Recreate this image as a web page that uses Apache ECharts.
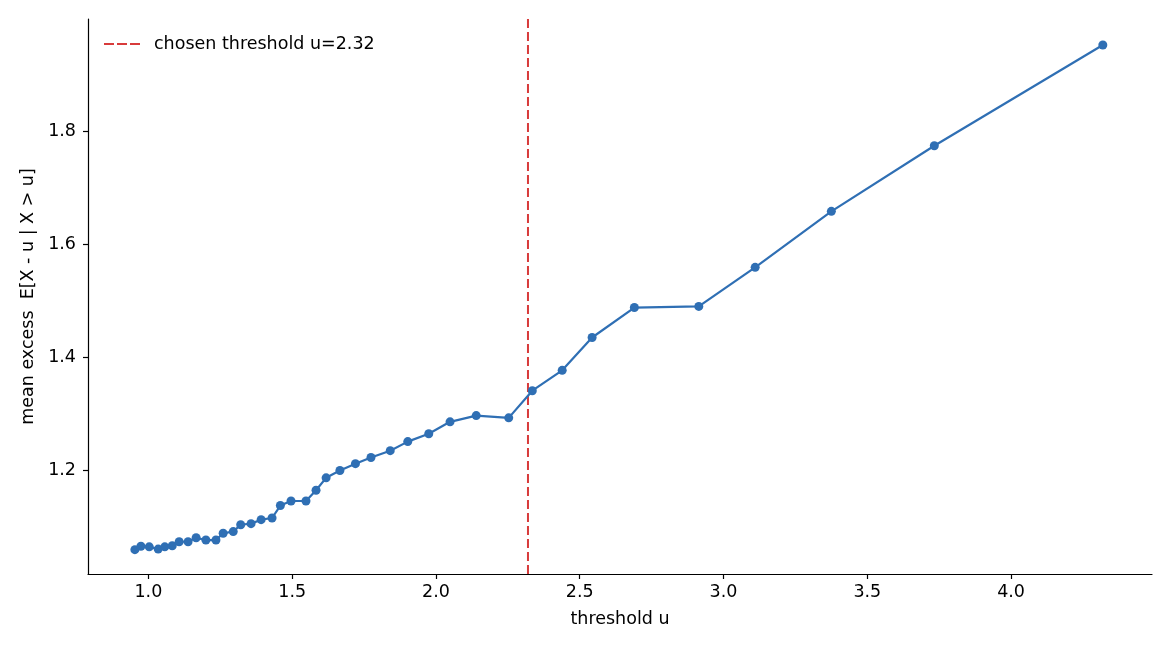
<!DOCTYPE html>
<html>
<head>
<meta charset="utf-8">
<script src="https://cdn.jsdelivr.net/npm/echarts@6/dist/echarts.min.js"></script>
<style>
  html, body { margin: 0; padding: 0; background: #fff; }
  #chart { width: 1170px; height: 650px; }
</style>
</head>
<body>
<div id="chart"></div>
<script>
// threshold values (x) and mean excess values (y)
const thresholds = [0.953, 0.974, 1.003, 1.034, 1.057, 1.083, 1.107, 1.138, 1.166, 1.200,
  1.235, 1.260, 1.295, 1.321, 1.357, 1.392, 1.430, 1.459, 1.496, 1.548,
  1.583, 1.618, 1.666, 1.720, 1.774, 1.841, 1.902, 1.975, 2.049, 2.140,
  2.253, 2.335, 2.439, 2.543, 2.690, 2.914, 3.110, 3.375, 3.733, 4.319];
const meanExcess = [1.060, 1.066, 1.065, 1.061, 1.065, 1.067, 1.074, 1.074, 1.081, 1.077,
  1.077, 1.089, 1.092, 1.104, 1.106, 1.113, 1.116, 1.138, 1.146, 1.146,
  1.165, 1.187, 1.200, 1.212, 1.223, 1.235, 1.251, 1.265, 1.286, 1.297,
  1.293, 1.341, 1.377, 1.435, 1.488, 1.490, 1.559, 1.658, 1.774, 1.952];
const chosenU = 2.32;
const xTicks = [1.0, 1.5, 2.0, 2.5, 3.0, 3.5, 4.0];
const yTicks = [1.2, 1.4, 1.6, 1.8];
const xRange = [0.79, 4.49];
const yRange = [1.017, 1.998];

const thresholdName = 'chosen threshold u=' + chosenU.toFixed(2);
const font = 'DejaVu Sans';
const fs = 17.5;

var myChart = echarts.init(document.getElementById('chart'));

myChart.setOption({
  animation: false,
  backgroundColor: '#fff',
  grid: {
    left: 88,
    right: 18,
    top: 19,
    bottom: 76
  },
  legend: {
    data: [thresholdName],
    left: 98,
    top: 30,
    itemWidth: 36,
    itemHeight: 14,
    itemStyle: { opacity: 0 },
    lineStyle: { width: 2, type: [10, 3] },
    textStyle: { fontFamily: font, fontSize: fs, color: '#000', padding: [0, 0, 0, 9] }
  },
  xAxis: {
    type: 'value',
    min: xRange[0],
    max: xRange[1],
    name: 'threshold u',
    nameLocation: 'middle',
    nameGap: 36,
    nameTextStyle: { fontFamily: font, fontSize: fs, color: '#000' },
    splitLine: { show: false },
    axisLine: { show: true, lineStyle: { color: '#000', width: 1.2 } },
    axisTick: { show: true, length: 5, customValues: xTicks, lineStyle: { color: '#000', width: 1.2 } },
    axisLabel: {
      customValues: xTicks,
      fontFamily: font, fontSize: fs, color: '#000', margin: 9,
      formatter: v => v.toFixed(1)
    }
  },
  yAxis: {
    type: 'value',
    min: yRange[0],
    max: yRange[1],
    name: 'mean excess  E[X - u | X > u]',
    nameLocation: 'middle',
    nameGap: 47,
    nameTextStyle: { fontFamily: font, fontSize: fs, color: '#000' },
    splitLine: { show: false },
    axisLine: { show: true, lineStyle: { color: '#000', width: 1.2 } },
    axisTick: { show: true, length: 5, customValues: yTicks, lineStyle: { color: '#000', width: 1.2 } },
    axisLabel: {
      customValues: yTicks,
      fontFamily: font, fontSize: fs, color: '#000', margin: 12,
      formatter: v => v.toFixed(1)
    }
  },
  series: [
    {
      name: thresholdName,
      type: 'line',
      z: 1,
      symbol: 'none',
      color: '#d83b3b',
      lineStyle: { color: '#d83b3b', width: 2, type: [9, 4] },
      data: [[chosenU, yRange[0]], [chosenU, yRange[1]]]
    },
    {
      name: 'mean excess',
      type: 'line',
      z: 3,
      symbol: 'circle',
      symbolSize: 9,
      color: '#2f6fb4',
      lineStyle: { color: '#2f6fb4', width: 2.2 },
      itemStyle: { color: '#2f6fb4' },
      data: thresholds.map((u, i) => [u, meanExcess[i]])
    }
  ]
});
</script>
</body>
</html>
